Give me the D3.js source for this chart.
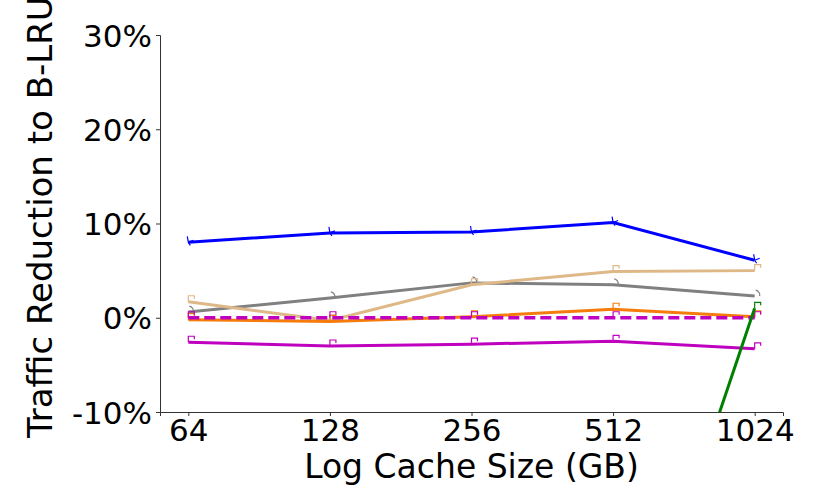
<!DOCTYPE html>
<html>
<head>
<meta charset="utf-8">
<script src="https://cdn.jsdelivr.net/npm/d3@7"></script>
<style>
  body { margin: 0; background: #fff; }
  text { font-family: "DejaVu Sans", sans-serif; fill: #000; }
</style>
</head>
<body>
<div id="chart"></div>
<script>
// Traffic reduction vs. B-LRU

const WIDTH = 821
const HEIGHT = 490

const MARGIN = { top: 35, bot: 78, left: 160, right: 38 }

// data (percent)
const cacheSizes = [64, 128, 256, 512, 1024]
const yTicks = [-10, 0, 10, 20, 30]

const blueVals = [8.0, 9.0, 9.1, 10.1, 6.1]
const grayVals = [0.6, 2.1, 3.7, 3.5, 2.3]
const tanVals = [1.7, -0.3, 3.5, 4.9, 5.0]
const orangeVals = [-0.2, -0.4, 0.1, 0.9, 0.1]
const dashedVals = [0, 0, 0, 0, 0]
const magentaVals = [-2.6, -3.0, -2.8, -2.5, -3.3]
const greenVals = [null, null, null, -43.5, 1.0]

const series = [
  { vals: blueVals, color: "#0000ff", mark: "tri" },
  { vals: grayVals, color: "#808080", mark: "arc" },
  { vals: tanVals, color: "#deb887", mark: "hook" },
  { vals: orangeVals, color: "#f57c0c", mark: "hook" },
  { vals: magentaVals, color: "#bf00bf", mark: "hook" },
  { vals: dashedVals, color: "#bf00bf", mark: "hook", dash: "11,5" },
  { vals: greenVals, color: "#008000", mark: "hook" }
]

const svg = d3.select("#chart")
  .append("svg")
  .attr("width", WIDTH)
  .attr("height", HEIGHT)

const x = d3.scaleLinear()
  .domain([5.8, 10.2])
  .range([MARGIN.left, WIDTH - MARGIN.right])

const y = d3.scaleLinear()
  .domain([-10, 30])
  .range([HEIGHT - MARGIN.bot, MARGIN.top])

svg.append("clipPath")
  .attr("id", "plot-clip")
  .append("rect")
  .attr("x", MARGIN.left)
  .attr("y", MARGIN.top)
  .attr("width", WIDTH - MARGIN.right - MARGIN.left)
  .attr("height", HEIGHT - MARGIN.bot - MARGIN.top)

// Ejes
const xAxis = d3.axisBottom(x)
  .tickValues(cacheSizes.map(d => Math.log2(d)))
  .tickFormat(d => String(Math.round(Math.pow(2, d))))
  .tickSizeOuter(0)
  .tickSize(4)
  .tickPadding(3)

const yAxis = d3.axisLeft(y)
  .tickValues(yTicks)
  .tickFormat(d => d + "%")
  .tickSizeOuter(0)
  .tickSize(4)
  .tickPadding(4)

const gx = svg.append("g")
  .attr("transform", `translate(0, ${HEIGHT - MARGIN.bot})`)
  .call(xAxis)
gx.selectAll("text").attr("font-size", 31).attr("font-family", "DejaVu Sans")
gx.selectAll("line, path").attr("stroke", "#333")

const gy = svg.append("g")
  .attr("transform", `translate(${MARGIN.left}, 0)`)
  .call(yAxis)
gy.selectAll("text").attr("font-size", 31).attr("font-family", "DejaVu Sans").attr("dy", "0.36em")
gy.selectAll("line, path").attr("stroke", "#333")

svg.append("text")
  .text("Log Cache Size (GB)")
  .attr("x", (MARGIN.left + WIDTH - MARGIN.right) / 2)
  .attr("y", 478)
  .attr("text-anchor", "middle")
  .attr("font-size", 33)

svg.append("text")
  .text("Traffic Reduction to B-LRU")
  .attr("transform", "translate(52, 438) rotate(-90)")
  .attr("text-anchor", "start")
  .attr("font-size", 34)

// Lineas
const line = d3.line()
  .defined(d => d.v !== null)
  .x(d => x(Math.log2(d.size)))
  .y(d => y(d.v))

const markPath = {
  hook: "M0,0 L0,-6 L6,-6 L6,-3",
  tri: "M0,0 L-1,-6 M0,0 L5,-2 M0,0 L2,3",
  arc: "M1,-6 A5,5 0 0 1 5,0"
}

const plot = svg.append("g").attr("clip-path", "url(#plot-clip)")

series.forEach(s => {
  const pts = cacheSizes.map((size, i) => ({ size: size, v: s.vals[i] }))
  plot.append("path")
    .datum(pts)
    .attr("fill", "none")
    .attr("stroke", s.color)
    .attr("stroke-width", s.dash ? 3.4 : 3)
    .attr("stroke-dasharray", s.dash || null)
    .attr("d", line)

  plot.selectAll(null)
    .data(pts.filter(d => d.v !== null))
    .join("path")
    .attr("fill", "none")
    .attr("stroke", s.color)
    .attr("stroke-width", 1.2)
    .attr("d", markPath[s.mark])
    .attr("transform", d => `translate(${x(Math.log2(d.size))},${y(d.v)})`)
})
</script>
</body>
</html>
